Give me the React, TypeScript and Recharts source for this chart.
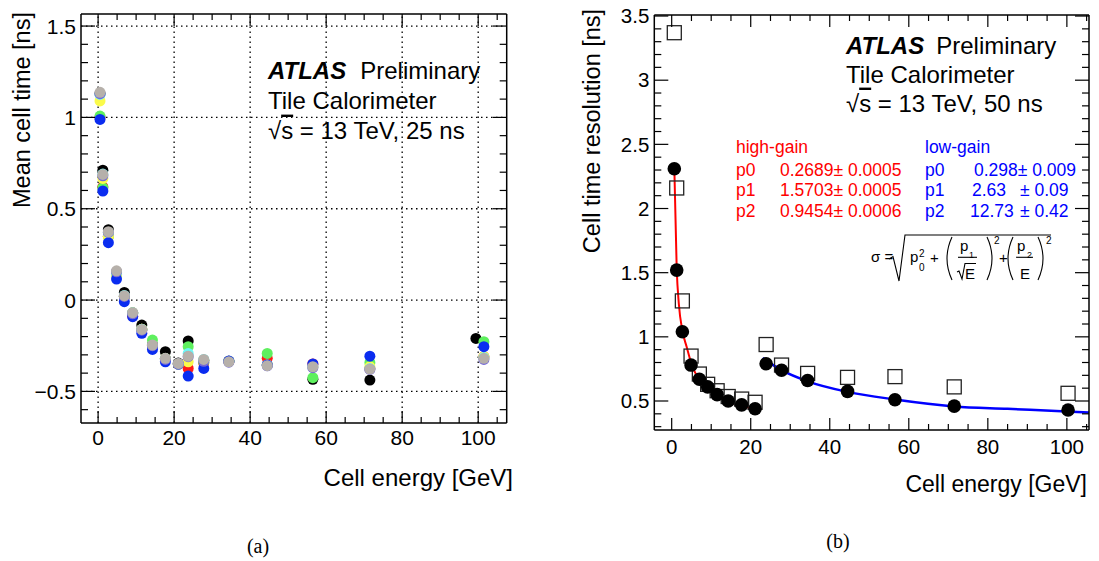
import React from "react"
import { ComposedChart, Scatter, Line, XAxis, YAxis, ReferenceLine } from "recharts"

const SANS = "'Liberation Sans', Arial, Helvetica, sans-serif"
const SERIF = "'Liberation Serif', 'Times New Roman', serif"

// ---- panel (a): mean cell time vs energy, one series per partition/colour
const energyA = [0.5, 1.25, 2.7, 4.85, 6.9, 9.1, 11.5, 14.3, 17.7, 21.1, 23.7, 27.8, 34.4, 44.5, 56.5, 71.5, 101.5]
const energyABlack = [0.5, 1.25, 2.7, 4.85, 6.9, 9.1, 11.5, 14.3, 17.7, 21.1, 23.7, 27.8, 34.4, 44.5, 56.5, 71.5, 99.4]
const blackT = [1.13, 0.711, 0.385, 0.15, 0.042, -0.07, -0.137, -0.245, -0.283, -0.345, -0.224, -0.33, -0.335, -0.355, -0.434, -0.438, -0.21]
const redT = [1.0, 0.62, 0.35, 0.15, 0.02, -0.088, -0.16, -0.25, -0.32, -0.35, -0.374, -0.345, -0.335, -0.319, -0.35, -0.375, -0.31]
const greenT = [1.007, 0.615, 0.347, 0.14, 0.02, -0.075, -0.16, -0.219, -0.32, -0.35, -0.255, -0.34, -0.335, -0.292, -0.425, -0.343, -0.228]
const yellowT = [1.09, 0.666, 0.347, 0.137, 0.02, -0.07, -0.16, -0.25, -0.32, -0.35, -0.338, -0.33, -0.335, -0.355, -0.365, -0.365, -0.31]
const cyanT = [1.126, 0.69, 0.37, 0.15, 0.025, -0.07, -0.16, -0.25, -0.32, -0.35, -0.292, -0.325, -0.335, -0.355, -0.365, -0.375, -0.315]
const blueT = [0.989, 0.597, 0.314, 0.115, -0.009, -0.091, -0.182, -0.27, -0.338, -0.35, -0.416, -0.374, -0.334, -0.356, -0.35, -0.307, -0.255]
const purpleT = [1.13, 0.68, 0.37, 0.155, 0.02, -0.075, -0.165, -0.25, -0.325, -0.35, -0.31, -0.335, -0.34, -0.36, -0.37, -0.38, -0.325]
const grayT = [1.137, 0.688, 0.374, 0.16, 0.024, -0.069, -0.161, -0.246, -0.319, -0.347, -0.307, -0.325, -0.338, -0.359, -0.365, -0.378, -0.319]

const xTicksA = [0, 5, 10, 15, 20, 25, 30, 35, 40, 45, 50, 55, 60, 65, 70, 75, 80, 85, 90, 95, 100, 105]
const yTicksA = [-0.6, -0.5, -0.4, -0.3, -0.2, -0.1, 0, 0.1, 0.2, 0.3, 0.4, 0.5, 0.6, 0.7, 0.8, 0.9, 1, 1.1, 1.2, 1.3, 1.4, 1.5]
const gridXA = [0, 20, 40, 60, 80, 100]
const gridYA = [-0.5, 0, 0.5, 1, 1.5]

// ---- panel (b): cell time resolution
const hgEnergy = [0.66, 1.27, 2.7, 4.9, 7.0, 9.1, 11.5, 14.3, 17.7, 21.1]
const hgCircle = [2.31, 1.52, 1.04, 0.78, 0.67, 0.61, 0.55, 0.5, 0.47, 0.44]
const hgSquare = [3.37, 2.16, 1.28, 0.85, 0.71, 0.63, 0.58, 0.535, 0.515, 0.49]
const lgEnergy = [23.9, 27.8, 34.4, 44.5, 56.5, 71.5, 100.3]
const lgCircle = [0.79, 0.74, 0.66, 0.575, 0.51, 0.46, 0.43]
const lgSquare = [0.94, 0.78, 0.715, 0.684, 0.69, 0.61, 0.56]
// fit curves as drawn
const hgFitE = [0.68, 1.27, 1.8, 2.7, 3.8, 4.9, 7, 10, 14, 21.1]
const hgFitV = [2.3, 1.53, 1.26, 1.05, 0.92, 0.8, 0.66, 0.57, 0.5, 0.44]
const lgFitE = [23, 27.8, 34.4, 44.5, 56.5, 71.5, 85, 100, 105.6]
const lgFitV = [0.834, 0.74, 0.653, 0.571, 0.512, 0.458, 0.439, 0.418, 0.41]

const xTicksB = [0, 5, 10, 15, 20, 25, 30, 35, 40, 45, 50, 55, 60, 65, 70, 75, 80, 85, 90, 95, 100, 105]
const yTicksB = [0.3, 0.4, 0.5, 0.6, 0.7, 0.8, 0.9, 1, 1.1, 1.2, 1.3, 1.4, 1.5, 1.6, 1.7, 1.8, 1.9, 2, 2.1, 2.2, 2.3, 2.4, 2.5, 2.6, 2.7, 2.8, 2.9, 3, 3.1, 3.2, 3.3, 3.4, 3.5]

const pts = (xs: number[], ys: number[]) => xs.map((e, i) => ({ e, v: ys[i] }))

const fmt = (v: number) => (v < 0 ? "\u2212" + Math.abs(v) : String(v))

type TickOpts = {
  side: "bottom" | "top" | "left" | "right"
  step: number
  major: number
  minor: number
  gap?: number
  size?: number
  label?: boolean
}

// ROOT-style ticks: drawn inside the frame, labels outside
function inwardTick(o: TickOpts) {
  return (p: any) => {
    const { x, y } = p
    const v = p.payload.value
    const isMajor = Math.abs(v / o.step - Math.round(v / o.step)) < 1e-6
    const len = isMajor ? o.major : o.minor
    let x2 = x
    let y2 = y
    if (o.side === "bottom") y2 = y - len
    if (o.side === "top") y2 = y + len
    if (o.side === "left") x2 = x + len
    if (o.side === "right") x2 = x - len
    let label = null
    if (isMajor && o.label) {
      if (o.side === "bottom") {
        label = (
          <text x={x} y={y + (o.gap || 0)} dy="0.71em" textAnchor="middle" fontFamily={SANS} fontSize={o.size} fill="#000">
            {fmt(v)}
          </text>
        )
      } else {
        label = (
          <text x={x - (o.gap || 0)} y={y} dy="0.355em" textAnchor="end" fontFamily={SANS} fontSize={o.size} fill="#000">
            {fmt(v)}
          </text>
        )
      }
    }
    return (
      <g>
        <line x1={x} y1={y} x2={x2} y2={y2} stroke="#000" strokeWidth={1.2} />
        {label}
      </g>
    )
  }
}

const dot = (r: number, color: string) => (p: any) => <circle cx={p.cx} cy={p.cy} r={r} fill={color} />
const square = (s: number) => (p: any) => (
  <rect x={p.cx - s / 2} y={p.cy - s / 2} width={s} height={s} fill="none" stroke="#222" strokeWidth={1.3} />
)

const axisLine = { stroke: "#000", strokeWidth: 1.5 }

// axis boxes are given a real size; margins are reduced by the same amount
const BOT_H = 30
const TOP_H = 4
const LEFT_W = 40
const RIGHT_W = 4

function PanelA() {
  const series = [
    { name: "black", color: "#000000", xs: energyABlack, ys: blackT },
    { name: "red", color: "#ff1a1a", xs: energyA, ys: redT },
    { name: "green", color: "#5ef05e", xs: energyA, ys: greenT },
    { name: "yellow", color: "#fbfb4a", xs: energyA, ys: yellowT },
    { name: "cyan", color: "#6ff5f5", xs: energyA, ys: cyanT },
    { name: "blue", color: "#0a2cf0", xs: energyA, ys: blueT },
    { name: "purple", color: "#7468d8", xs: energyA, ys: purpleT },
    { name: "gray", color: "#b6b0aa", xs: energyA, ys: grayT },
  ]
  const xDom: [number, number] = [-4.5, 107.5]
  const yDom: [number, number] = [-0.673, 1.566]
  return (
    <ComposedChart width={540} height={561}
      margin={{ top: 14 - TOP_H, right: 33.3 - RIGHT_W, bottom: 138 - BOT_H, left: 81 - LEFT_W }}>
      <XAxis xAxisId="b" dataKey="e" type="number" domain={xDom} allowDataOverflow ticks={xTicksA} interval={0}
        height={BOT_H} tickSize={0} tickMargin={0} tickLine={false} axisLine={axisLine}
        tick={inwardTick({ side: "bottom", step: 20, major: 12, minor: 6, gap: 7, size: 21, label: true })} />
      <XAxis xAxisId="t" orientation="top" dataKey="e" type="number" domain={xDom} allowDataOverflow ticks={xTicksA} interval={0}
        height={TOP_H} tickSize={0} tickMargin={0} tickLine={false} axisLine={axisLine}
        tick={inwardTick({ side: "top", step: 20, major: 12, minor: 6 })} />
      <YAxis yAxisId="l" dataKey="v" type="number" domain={yDom} allowDataOverflow ticks={yTicksA} interval={0}
        width={LEFT_W} tickSize={0} tickMargin={0} tickLine={false} axisLine={axisLine}
        tick={inwardTick({ side: "left", step: 0.5, major: 14, minor: 7, gap: 5, size: 21, label: true })} />
      <YAxis yAxisId="r" orientation="right" dataKey="v" type="number" domain={yDom} allowDataOverflow ticks={yTicksA} interval={0}
        width={RIGHT_W} tickSize={0} tickMargin={0} tickLine={false} axisLine={axisLine}
        tick={inwardTick({ side: "right", step: 0.5, major: 14, minor: 7 })} />
      {gridXA.map((g) => (
        <ReferenceLine key={"gx" + g} x={g} xAxisId="b" yAxisId="l" stroke="#000" strokeWidth={1.3} strokeDasharray="1.5 3.5" />
      ))}
      {gridYA.map((g) => (
        <ReferenceLine key={"gy" + g} y={g} xAxisId="b" yAxisId="l" stroke="#000" strokeWidth={1.3} strokeDasharray="1.5 3.5" />
      ))}
      {series.map((s) => (
        <Scatter key={s.name} data={pts(s.xs, s.ys)} xAxisId="b" yAxisId="l" shape={dot(5.5, s.color)} isAnimationActive={false} />
      ))}
    </ComposedChart>
  )
}

function PanelB() {
  const xDom: [number, number] = [-4.4, 105.6]
  const yDom: [number, number] = [0.274, 3.508]
  return (
    <ComposedChart width={559} height={561}
      margin={{ top: 15 - TOP_H, right: 10 - RIGHT_W, bottom: 131 - BOT_H, left: 114.3 - LEFT_W }}>
      <XAxis xAxisId="b" dataKey="e" type="number" domain={xDom} allowDataOverflow ticks={xTicksB} interval={0}
        height={BOT_H} tickSize={0} tickMargin={0} tickLine={false} axisLine={axisLine}
        tick={inwardTick({ side: "bottom", step: 20, major: 12, minor: 6, gap: 9, size: 20.5, label: true })} />
      <XAxis xAxisId="t" orientation="top" dataKey="e" type="number" domain={xDom} allowDataOverflow ticks={xTicksB} interval={0}
        height={TOP_H} tickSize={0} tickMargin={0} tickLine={false} axisLine={axisLine}
        tick={inwardTick({ side: "top", step: 20, major: 12, minor: 6 })} />
      <YAxis yAxisId="l" dataKey="v" type="number" domain={yDom} allowDataOverflow ticks={yTicksB} interval={0}
        width={LEFT_W} tickSize={0} tickMargin={0} tickLine={false} axisLine={axisLine}
        tick={inwardTick({ side: "left", step: 0.5, major: 14, minor: 7, gap: 5, size: 20.5, label: true })} />
      <YAxis yAxisId="r" orientation="right" dataKey="v" type="number" domain={yDom} allowDataOverflow ticks={yTicksB} interval={0}
        width={RIGHT_W} tickSize={0} tickMargin={0} tickLine={false} axisLine={axisLine}
        tick={inwardTick({ side: "right", step: 0.5, major: 14, minor: 7 })} />
      <Scatter data={pts(hgEnergy, hgSquare)} xAxisId="b" yAxisId="l" shape={square(14)} isAnimationActive={false} />
      <Scatter data={pts(lgEnergy, lgSquare)} xAxisId="b" yAxisId="l" shape={square(14)} isAnimationActive={false} />
      <Line data={pts(hgFitE, hgFitV)} dataKey="v" xAxisId="b" yAxisId="l" type="monotone" stroke="#ff0000" strokeWidth={2}
        dot={false} activeDot={false} isAnimationActive={false} />
      <Line data={pts(lgFitE, lgFitV)} dataKey="v" xAxisId="b" yAxisId="l" type="monotone" stroke="#0000ff" strokeWidth={2.5}
        dot={false} activeDot={false} isAnimationActive={false} />
      <Scatter data={pts(hgEnergy, hgCircle)} xAxisId="b" yAxisId="l" shape={dot(6.8, "#000")} isAnimationActive={false} />
      <Scatter data={pts(lgEnergy, lgCircle)} xAxisId="b" yAxisId="l" shape={dot(6.8, "#000")} isAnimationActive={false} />
    </ComposedChart>
  )
}

function Annotations() {
  const red = "#ff0000"
  const blue = "#0000ff"
  const fs = 17.5
  return (
    <svg width={1099} height={561} style={{ position: "absolute", left: 0, top: 0, pointerEvents: "none" }}>
      <g fontFamily={SANS} fill="#000">
        {/* panel (a) */}
        <text transform="translate(22,110) rotate(-90)" textAnchor="middle" dominantBaseline="central" fontSize={23.5}>
          Mean cell time [ns]
        </text>
        <text x={513} y={486} textAnchor="end" fontSize={24}>Cell energy [GeV]</text>
        <text x={268} y={78.6} fontSize={24}>
          <tspan fontWeight="bold" fontStyle="italic">ATLAS</tspan>
          <tspan dx={14}>Preliminary</tspan>
        </text>
        <text x={268} y={108.6} fontSize={24}>Tile Calorimeter</text>
        <text x={268} y={138.6} fontSize={24}>
          √<tspan style={{ textDecoration: "overline" }}>s</tspan> = 13 TeV, 25 ns
        </text>

        {/* panel (b) */}
        <text transform="translate(592,131) rotate(-90)" textAnchor="middle" dominantBaseline="central" fontSize={23.5}>
          Cell time resolution [ns]
        </text>
        <text x={1087} y={492} textAnchor="end" fontSize={23}>Cell energy [GeV]</text>
        <text x={846} y={53.6} fontSize={24}>
          <tspan fontWeight="bold" fontStyle="italic">ATLAS</tspan>
          <tspan dx={12}>Preliminary</tspan>
        </text>
        <text x={846} y={82.6} fontSize={24}>Tile Calorimeter</text>
        <text x={846} y={111.6} fontSize={24}>
          √<tspan style={{ textDecoration: "overline" }}>s</tspan> = 13 TeV, 50 ns
        </text>

        <g fontSize={fs} fill={red}>
          <text x={736} y={153}>high-gain</text>
          <text x={736} y={175.5}>p0</text>
          <text x={780} y={175.5}>0.2689± 0.0005</text>
          <text x={736} y={196}>p1</text>
          <text x={780} y={196}>1.5703± 0.0005</text>
          <text x={736} y={217}>p2</text>
          <text x={780} y={217}>0.9454± 0.0006</text>
        </g>
        <g fontSize={fs} fill={blue}>
          <text x={925} y={153}>low-gain</text>
          <text x={925} y={175.5}>p0</text>
          <text x={974} y={175.5}>0.298± 0.009</text>
          <text x={925} y={196}>p1</text>
          <text x={972} y={196}>2.63</text>
          <text x={1020} y={196}>± 0.09</text>
          <text x={925} y={217}>p2</text>
          <text x={970} y={217}>12.73</text>
          <text x={1020} y={217}>± 0.42</text>
        </g>

        {/* sigma formula */}
        <g fontSize={15}>
          <text x={871} y={262}>σ =</text>
          <text x={910} y={262}>p</text>
          <text x={919} y={257} fontSize={10}>2</text>
          <text x={919} y={270.5} fontSize={10}>0</text>
          <text x={930} y={263}>+</text>
          <text x={960} y={251}>p</text>
          <text x={969} y={257.5} fontSize={9}>1</text>
          <text x={965} y={278.5}>E</text>
          <text x={994} y={243.5} fontSize={10}>2</text>
          <text x={999} y={263}>+</text>
          <text x={1017} y={251}>p</text>
          <text x={1027} y={257.5} fontSize={9}>2</text>
          <text x={1020} y={278.5}>E</text>
          <text x={1046} y={243.5} fontSize={10}>2</text>
        </g>
        <g fill="none" stroke="#000" strokeWidth={1.1}>
          <path d="M889 259 L893 256.5 L899 281 L905 235 L1051 235" />
          <path d="M957 272 L959 271 L962 279 L965 263.5 L976 263.5" />
          <line x1={958} y1={257.3} x2={977} y2={257.3} />
          <line x1={1016} y1={257.3} x2={1033} y2={257.3} />
          <path d="M952 237 Q942 258.5 952 280" />
          <path d="M987 237 Q997 258.5 987 280" />
          <path d="M1013 237 Q1003 258.5 1013 280" />
          <path d="M1038 237 Q1048 258.5 1038 280" />
        </g>
      </g>
      <g fontFamily={SERIF} fontSize={20} fill="#000" textAnchor="middle">
        <text x={258} y={553}>(a)</text>
        <text x={838} y={548}>(b)</text>
      </g>
    </svg>
  )
}

export default function App() {
  return (
    <div style={{ position: "absolute", left: 0, top: 0, width: 1099, height: 561, background: "#fff" }}>
      <div style={{ position: "absolute", left: 0, top: 0 }}>
        <PanelA />
      </div>
      <div style={{ position: "absolute", left: 540, top: 0 }}>
        <PanelB />
      </div>
      <Annotations />
    </div>
  )
}
